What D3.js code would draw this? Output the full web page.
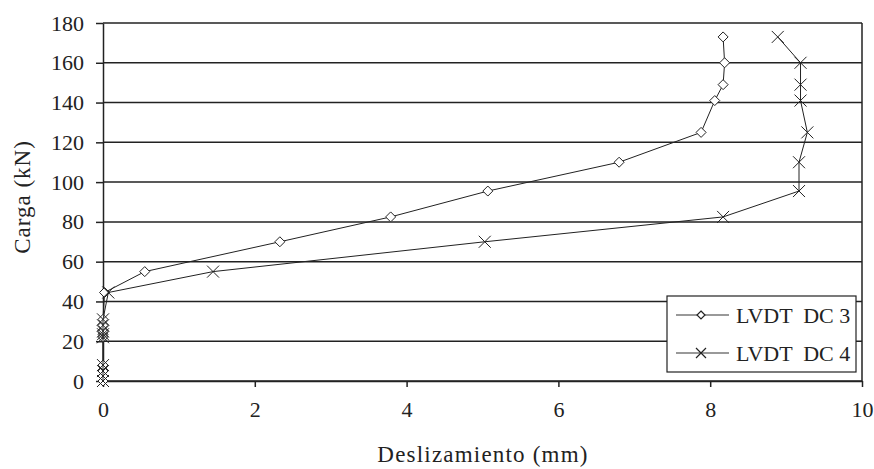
<!DOCTYPE html>
<html>
<head>
<meta charset="utf-8">
<script src="https://cdn.jsdelivr.net/npm/d3@7"></script>
<style>
  body { margin: 0; background: #fff; }
  svg { display: block; font-family: "Liberation Serif", "DejaVu Serif", serif; }
</style>
</head>
<body>
<svg width="874" height="469"></svg>
<script>
// loads (kN) shared by both LVDTs
const carga = [0, 2.5, 5, 8, 22, 23.5, 25, 28, 31, 44.5, 55, 70, 82.5, 95.5, 110, 125, 141, 149, 160, 173];
// slip (mm)
const dc3 = [0, 0, 0, 0, 0, 0, 0, 0, 0, 0.02, 0.55, 2.33, 3.79, 5.07, 6.8, 7.88, 8.06, 8.17, 8.19, 8.17];
const dc4 = [0, 0, 0, 0, 0, 0, 0, 0, 0, 0.07, 1.45, 5.03, 8.17, 9.17, 9.17, 9.28, 9.19, 9.19, 9.19, 8.89];
const seriesNames = ['LVDT  DC 3', 'LVDT  DC 4'];
const xTicks = [0, 2, 4, 6, 8, 10];
const yTicks = [0, 20, 40, 60, 80, 100, 120, 140, 160, 180];

const margin = { top: 23, right: 12, bottom: 88, left: 103 };
const W = 874, H = 469;
const w = W - margin.left - margin.right;
const h = H - margin.top - margin.bottom;

const svg = d3.select('svg');
const g = svg.append('g').attr('transform', `translate(${margin.left},${margin.top})`);

const x = d3.scaleLinear().domain([0, 10]).range([0, w]);
const y = d3.scaleLinear().domain([0, 180]).range([h, 0]);

// horizontal grid
g.selectAll('.grid').data(yTicks).enter().append('line')
  .attr('x1', 0).attr('x2', w)
  .attr('y1', d => y(d)).attr('y2', d => y(d))
  .attr('stroke', '#222').attr('stroke-width', 1.5);

// right border
g.append('line').attr('x1', w).attr('x2', w).attr('y1', 0).attr('y2', h)
  .attr('stroke', '#222').attr('stroke-width', 1.5);

const yAxis = g.append('g')
  .call(d3.axisLeft(y).tickValues(yTicks).tickSize(7).tickPadding(12).tickSizeOuter(0));
const xAxis = g.append('g').attr('transform', `translate(0,${h})`)
  .call(d3.axisBottom(x).tickValues(xTicks).tickSize(6).tickPadding(14).tickSizeOuter(0));

[yAxis, xAxis].forEach(a => {
  a.select('.domain').attr('stroke', '#222').attr('stroke-width', 1.5);
  a.selectAll('.tick line').attr('stroke', '#222').attr('stroke-width', 1.5);
  a.selectAll('text').attr('font-family', '"Liberation Serif", serif')
    .attr('font-size', 22).attr('fill', '#222');
});

// axis titles
svg.append('text')
  .attr('x', 483).attr('y', 462)
  .attr('text-anchor', 'middle')
  .attr('font-size', 23).attr('letter-spacing', 1.2).attr('fill', '#222')
  .text('Deslizamiento (mm)');

svg.append('text')
  .attr('transform', 'translate(30,197) rotate(-90)')
  .attr('text-anchor', 'middle')
  .attr('font-size', 23).attr('letter-spacing', 1).attr('fill', '#222')
  .text('Carga (kN)');

const line = d3.line().x(d => x(d[0])).y(d => y(d[1]));

const diamond = s => `M0,${-s}L${s},0L0,${s}L${-s},0Z`;
const cross = s => `M${-s},${-s}L${s},${s}M${-s},${s}L${s},${-s}`;

function drawSeries(vals, marker) {
  const pts = vals.map((v, i) => [v, carga[i]]);
  g.append('path').datum(pts)
    .attr('d', line)
    .attr('fill', 'none').attr('stroke', '#222').attr('stroke-width', 1);
  g.selectAll(null).data(pts).enter().append('path')
    .attr('transform', d => `translate(${x(d[0])},${y(d[1])})`)
    .attr('d', marker)
    .attr('fill', marker === cross6 ? 'none' : '#fff')
    .attr('stroke', '#222').attr('stroke-width', 1);
}
const diamond5 = diamond(5);
const cross6 = cross(6);
drawSeries(dc3, diamond5);
drawSeries(dc4, cross6);

// legend
const lg = svg.append('g').attr('transform', 'translate(667,296)');
lg.append('rect').attr('width', 189).attr('height', 76)
  .attr('fill', '#fff').attr('stroke', '#222').attr('stroke-width', 1.2);
const markers = [diamond(4), cross(5)];
seriesNames.forEach((name, i) => {
  const cy = 19 + i * 38;
  lg.append('line').attr('x1', 9).attr('x2', 62).attr('y1', cy).attr('y2', cy)
    .attr('stroke', '#999').attr('stroke-width', 2);
  lg.append('path').attr('transform', `translate(34,${cy})`)
    .attr('d', markers[i])
    .attr('fill', i === 0 ? '#fff' : 'none')
    .attr('stroke', '#222').attr('stroke-width', 1.2);
  lg.append('text').attr('x', 69).attr('y', cy).attr('dy', '0.35em')
    .attr('font-size', 22).attr('fill', '#222')
    .attr('xml:space', 'preserve').style('white-space', 'pre')
    .text(name);
});
</script>
</body>
</html>
